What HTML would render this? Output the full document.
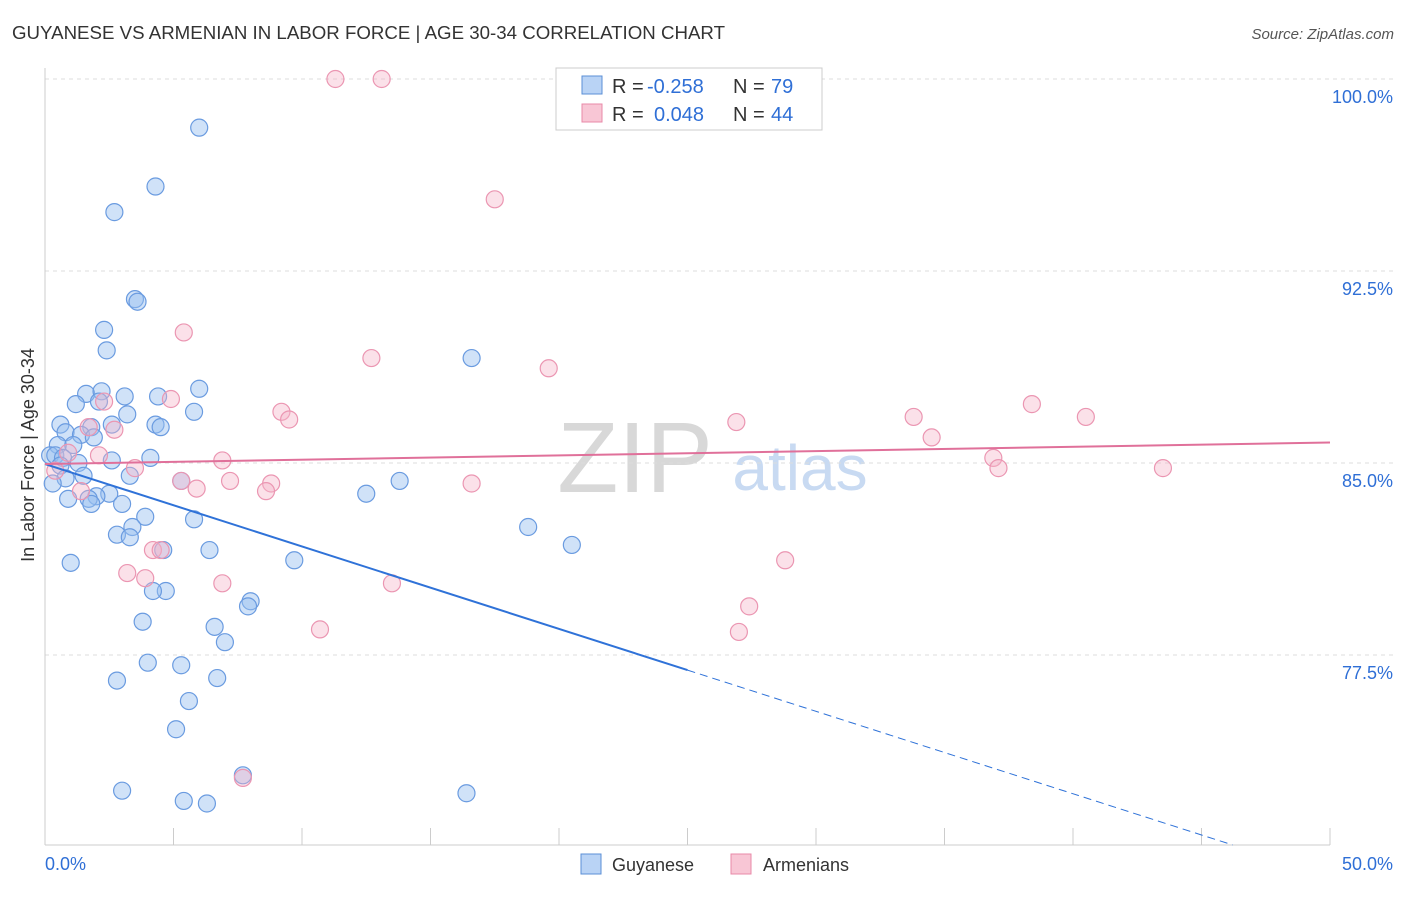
<!DOCTYPE html>
<html><head><meta charset="utf-8"><style>
body{margin:0;background:#fff;font-family:"Liberation Sans",sans-serif}
svg text{font-family:"Liberation Sans",sans-serif}
</style></head><body>
<svg id="chart" width="1406" height="892">
<text x="12" y="39" font-size="18" fill="#333" textLength="713" lengthAdjust="spacingAndGlyphs">GUYANESE VS ARMENIAN IN LABOR FORCE | AGE 30-34 CORRELATION CHART</text>
<text x="1394" y="39" font-size="15" fill="#555" text-anchor="end" font-style="italic">Source: ZipAtlas.com</text>
<text x="635" y="492" font-size="100" fill="#d8d8d8" font-family="Liberation Serif" text-anchor="middle">ZIP</text>
<text x="800" y="490" font-size="64" fill="#c8daf2" text-anchor="middle">atlas</text>
<text transform="translate(34,455) rotate(-90)" font-size="18" fill="#333" text-anchor="middle">In Labor Force | Age 30-34</text>
<g id="grid"></g><g id="pts"></g><g id="lines"></g>
<rect x="556" y="68" width="266" height="62" fill="#fff" stroke="#ccc"/>
<rect x="582" y="76" width="20" height="18" fill="#b9d3f5" stroke="#5b8fd6"/>
<rect x="582" y="104" width="20" height="18" fill="#f8c6d5" stroke="#e889a8"/>
<g font-size="20">
<text x="612" y="93" fill="#333">R =</text><text x="647" y="93" fill="#2f6fd6">-0.258</text>
<text x="733" y="93" fill="#333">N =</text><text x="771" y="93" fill="#2f6fd6">79</text></g>
<g font-size="20">
<text x="612" y="121" fill="#333">R =</text><text x="654" y="121" fill="#2f6fd6">0.048</text>
<text x="733" y="121" fill="#333">N =</text><text x="771" y="121" fill="#2f6fd6">44</text></g>
<rect x="581" y="854" width="20" height="20" fill="#b9d3f5" stroke="#5b8fd6"/>
<text x="612" y="871" font-size="18" fill="#333">Guyanese</text>
<rect x="731" y="854" width="20" height="20" fill="#f8c6d5" stroke="#e889a8"/>
<text x="763" y="871" font-size="18" fill="#333">Armenians</text>
</svg>
<script>
const yTicks=[100,92.5,85,77.5];
const xTickLabels=["0.0%","50.0%"];
const blueX=[6.0,4.3,2.7,3.5,3.6,2.3,2.4,16.6,6.0,1.6,2.2,3.1,4.4,2.1,1.2,5.8,3.2,0.6,4.3,4.5,2.6,1.8,0.8,1.4,1.9,0.5,1.1,0.2,0.4,0.7,4.1,2.6,1.3,0.6,3.3,1.5,13.8,5.3,0.8,0.3,2.5,0.9,2.0,1.7,12.5,1.8,3.0,3.9,5.8,18.8,3.4,2.8,3.3,20.5,6.4,9.7,1.0,4.6,4.7,4.2,8.0,7.9,3.8,6.6,7.0,4.0,5.3,6.7,2.8,5.6,5.1,7.7,3.0,5.4,6.3,16.4];
const blueY=[98.1,95.8,94.8,91.4,91.3,90.2,89.4,89.1,87.9,87.7,87.8,87.6,87.6,87.4,87.3,87.0,86.9,86.5,86.5,86.4,86.5,86.4,86.2,86.1,86.0,85.7,85.7,85.3,85.3,85.2,85.2,85.1,85.0,84.9,84.5,84.5,84.3,84.3,84.4,84.2,83.8,83.6,83.7,83.6,83.8,83.4,83.4,82.9,82.8,82.5,82.5,82.2,82.1,81.8,81.6,81.2,81.1,81.6,80.0,80.0,79.6,79.4,78.8,78.6,78.0,77.2,77.1,76.6,76.5,75.7,74.6,72.8,72.2,71.8,71.7,72.1];
const pinkX=[11.3,13.1,17.5,5.4,12.7,19.6,4.9,2.3,9.2,9.5,26.9,33.8,38.4,40.5,34.5,2.7,1.7,0.9,2.1,6.9,36.9,37.1,43.5,3.5,0.4,7.2,5.3,5.9,8.8,8.6,16.6,1.4,4.2,4.5,28.8,3.2,3.9,6.9,13.5,27.4,27.0,10.7,7.7];
const pinkY=[100,100,95.3,90.1,89.1,88.7,87.5,87.4,87.0,86.7,86.6,86.8,87.3,86.8,86.0,86.3,86.4,85.4,85.3,85.1,85.2,84.8,84.8,84.8,84.7,84.3,84.3,84.0,84.2,83.9,84.2,83.9,81.6,81.6,81.2,80.7,80.5,80.3,80.3,79.4,78.4,78.5,72.7];
const blueTrend=[84.96,-0.322];
const pinkTrend=[84.96,0.0168];
const NS="http://www.w3.org/2000/svg";
const sx=v=>45+v*25.7, sy=v=>79+(100-v)*25.6;
function mk(tag,attrs,parent){const e=document.createElementNS(NS,tag);for(const k in attrs)e.setAttribute(k,attrs[k]);document.getElementById(parent).appendChild(e);return e;}
yTicks.forEach(t=>{
 const l=mk('line',{x1:45,x2:1394,y1:sy(t),y2:sy(t),stroke:'#ddd','stroke-dasharray':'4,4'},'grid');
 
 
 const tx=mk('text',{x:1393,y:sy(t)+24,'font-size':18,fill:'#2f6fd6','text-anchor':'end'},'grid');
 tx.textContent=t.toFixed(1)+'%';
 
 
});
const ax=mk('line',{x1:45,x2:1330,y1:845,y2:845,stroke:'#ccc'},'grid');


const ay=mk('line',{x1:45,x2:45,y1:68,y2:845,stroke:'#ccc'},'grid');


for(let i=0;i<=10;i++){const t=mk('line',{x1:sx(i*5),x2:sx(i*5),y1:828,y2:845,stroke:'#ccc'},'grid');
 
 }
xTickLabels.forEach((s,i)=>{const t=mk('text',{x:i?1393:45,y:870,'font-size':18,fill:'#2f6fd6','text-anchor':i?'end':'start'},'grid');t.textContent=s;
 
 });
blueX.forEach((x,i)=>{const c=mk('circle',{cx:sx(x),cy:sy(blueY[i]),r:8.5,fill:'rgba(150,190,240,0.45)',stroke:'#6a9be0','stroke-width':1.2},'pts');
 
 });
pinkX.forEach((x,i)=>{const c=mk('circle',{cx:sx(x),cy:sy(pinkY[i]),r:8.5,fill:'rgba(245,180,200,0.4)',stroke:'#eb96b2','stroke-width':1.2},'pts');
 
 });
const bf=x=>blueTrend[0]+blueTrend[1]*x, pf=x=>pinkTrend[0]+pinkTrend[1]*x;
const b1=mk('line',{x1:sx(0),y1:sy(bf(0)),x2:sx(25),y2:sy(bf(25)),stroke:'#2f72d8','stroke-width':2},'lines');


const xe=(70.08-blueTrend[0])/blueTrend[1];
const b2=mk('line',{x1:sx(25),y1:sy(bf(25)),x2:sx(xe),y2:sy(bf(xe)),stroke:'#2f72d8','stroke-width':1,'stroke-dasharray':'8,5'},'lines');


const p1=mk('line',{x1:sx(0),y1:sy(pf(0)),x2:sx(50),y2:sy(pf(50)),stroke:'#e0709a','stroke-width':2},'lines');


</script>
</body></html>
